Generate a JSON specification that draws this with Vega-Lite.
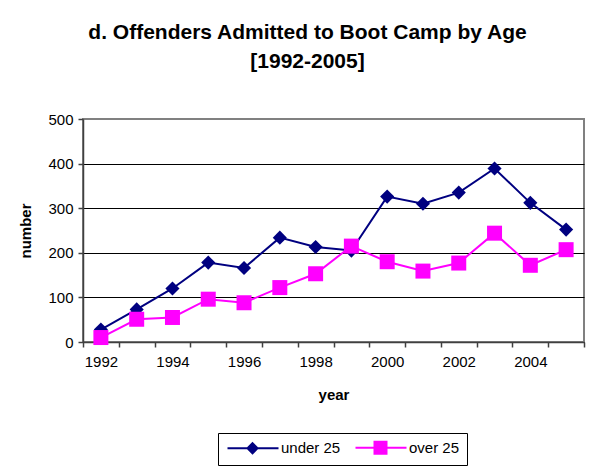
{
  "$schema": "https://vega.github.io/schema/vega-lite/v6.json",
  "width": 501,
  "height": 223,
  "autosize": {"type": "none"},
  "padding": {"left": 83, "top": 119, "right": 18, "bottom": 126},
  "background": "white",
  "title": {
    "text": ["d. Offenders Admitted to Boot Camp by Age", "[1992-2005]"],
    "font": "Liberation Sans",
    "fontSize": 21,
    "fontWeight": "bold",
    "lineHeight": 29,
    "color": "black",
    "anchor": "middle",
    "dx": -26,
    "offset": 40
  },
  "config": {
    "view": {"stroke": "#808080", "strokeWidth": 2},
    "axis": {
      "labelFont": "Liberation Sans",
      "labelFontSize": 15,
      "labelColor": "black",
      "titleFont": "Liberation Sans",
      "titleFontSize": 15,
      "titleFontWeight": "bold",
      "titleColor": "black",
      "domainColor": "#404040",
      "domainWidth": 1.5,
      "tickColor": "#404040",
      "tickWidth": 1.5,
      "tickSize": 5
    }
  },
  "data": {
    "values": [
      {"year": 1992, "age": "under 25", "number": 28},
      {"year": 1993, "age": "under 25", "number": 73},
      {"year": 1994, "age": "under 25", "number": 120},
      {"year": 1995, "age": "under 25", "number": 178},
      {"year": 1996, "age": "under 25", "number": 166},
      {"year": 1997, "age": "under 25", "number": 234},
      {"year": 1998, "age": "under 25", "number": 213},
      {"year": 1999, "age": "under 25", "number": 205},
      {"year": 2000, "age": "under 25", "number": 326},
      {"year": 2001, "age": "under 25", "number": 310},
      {"year": 2002, "age": "under 25", "number": 335},
      {"year": 2003, "age": "under 25", "number": 389},
      {"year": 2004, "age": "under 25", "number": 312},
      {"year": 2005, "age": "under 25", "number": 252},
      {"year": 1992, "age": "over 25", "number": 10},
      {"year": 1993, "age": "over 25", "number": 51},
      {"year": 1994, "age": "over 25", "number": 55},
      {"year": 1995, "age": "over 25", "number": 96},
      {"year": 1996, "age": "over 25", "number": 88},
      {"year": 1997, "age": "over 25", "number": 122},
      {"year": 1998, "age": "over 25", "number": 153},
      {"year": 1999, "age": "over 25", "number": 215},
      {"year": 2000, "age": "over 25", "number": 180},
      {"year": 2001, "age": "over 25", "number": 159},
      {"year": 2002, "age": "over 25", "number": 177},
      {"year": 2003, "age": "over 25", "number": 244},
      {"year": 2004, "age": "over 25", "number": 172},
      {"year": 2005, "age": "over 25", "number": 207}
    ]
  },
  "encoding": {
    "x": {
      "field": "year",
      "type": "quantitative",
      "scale": {"domain": [1991.5, 2005.5], "nice": false, "zero": false},
      "axis": {
        "title": "year",
        "values": [1991.5, 1992.5, 1993.5, 1994.5, 1995.5, 1996.5, 1997.5, 1998.5, 1999.5, 2000.5, 2001.5, 2002.5, 2003.5, 2004.5, 2005.5],
        "labelExpr": "datum.value < 2005 && (datum.value + 0.5) % 2 == 0 ? format(datum.value + 0.5, 'd') : ''",
        "labelOffset": 17.9,
        "labelOverlap": false,
        "labelFlush": false,
        "labelPadding": 7,
        "grid": false,
        "titlePadding": 18
      }
    },
    "y": {
      "field": "number",
      "type": "quantitative",
      "scale": {"domain": [0, 500], "nice": false},
      "axis": {
        "title": "number",
        "values": [0, 100, 200, 300, 400, 500],
        "grid": true,
        "gridColor": {"condition": {"test": "datum.value === 500", "value": "#808080"}, "value": "black"},
        "gridWidth": 1,
        "labelPadding": 5,
        "titlePadding": 14
      }
    },
    "color": {
      "field": "age",
      "type": "nominal",
      "scale": {"domain": ["under 25", "over 25"], "range": ["#000080", "#FF00FF"]},
      "legend": {
        "orient": "none",
        "legendX": 135,
        "legendY": 314,
        "direction": "horizontal",
        "title": null,
        "symbolSize": 100,
        "symbolStrokeWidth": 2,
        "labelOffset": 41,
        "columnPadding": 10,
        "padding": 7,
        "strokeColor": "black",
        "fillColor": "white",
        "labelFont": "Liberation Sans",
        "labelFontSize": 15,
        "labelColor": "black",
        "encode": {
          "symbols": {
            "update": {
              "shape": {"signal": "datum.value === 'under 25' ? 'M-1,0L9.2,0M4,-1L5,0L4,1L3,0Z' : 'M-1,0L9.2,0M2.8,-1.2L5.2,-1.2L5.2,1.2L2.8,1.2Z'"},
              "fill": {"signal": "datum.value === 'under 25' ? '#000080' : '#FF00FF'"},
              "stroke": {"signal": "datum.value === 'under 25' ? '#000080' : '#FF00FF'"},
              "strokeWidth": {"value": 2},
              "opacity": {"value": 1}
            }
          }
        }
      }
    }
  },
  "layer": [
    {
      "transform": [{"filter": "datum.age === 'under 25'"}],
      "mark": {"type": "line", "strokeWidth": 2}
    },
    {
      "transform": [{"filter": "datum.age === 'under 25'"}],
      "mark": {"type": "point", "filled": true, "opacity": 1, "shape": "diamond", "size": 200}
    },
    {
      "transform": [{"filter": "datum.age === 'over 25'"}],
      "mark": {"type": "line", "strokeWidth": 2}
    },
    {
      "transform": [{"filter": "datum.age === 'over 25'"}],
      "mark": {"type": "point", "filled": true, "opacity": 1, "shape": "square", "size": 225}
    }
  ]
}
